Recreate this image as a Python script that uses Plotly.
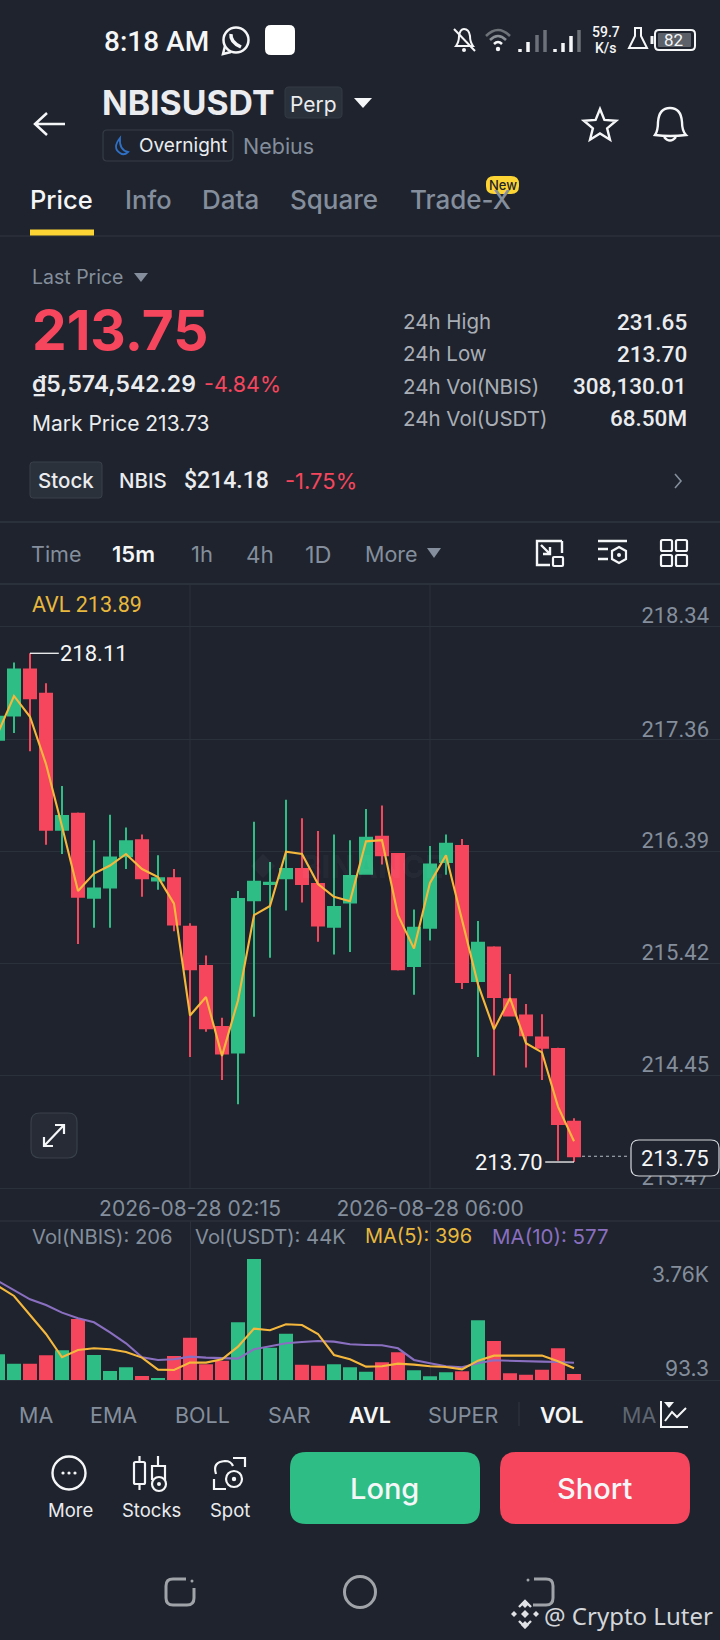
import math
import plotly.graph_objects as go

# ---------- data ----------
index = list(range(37))
opens = [217.36,217.57,217.97,217.76,216.58,216.72,215.99,216.08,216.35,216.49,216.14,216.16,215.74,215.40,214.87,214.65,215.97,216.11,216.16,216.24,216.11,215.74,215.95,216.20,216.52,216.37,215.40,215.73,216.30,216.44,215.27,215.56,215.11,214.97,214.78,214.68,214.05]
closes = [217.56,217.97,217.72,216.58,216.70,216.00,216.07,216.34,216.48,216.16,216.16,215.76,215.37,214.86,214.64,215.98,216.13,216.12,216.24,216.11,215.75,215.91,216.18,216.51,216.36,215.37,215.73,216.28,216.46,215.26,215.60,215.13,214.97,214.80,214.69,214.03,213.75]
highs = [217.70,218.03,218.11,217.85,216.96,216.73,216.49,216.71,216.60,216.54,216.36,216.24,215.77,215.49,214.95,216.05,216.65,216.30,216.84,216.68,216.57,216.54,216.49,216.76,216.79,216.37,215.89,216.44,216.54,216.50,215.79,215.57,215.33,215.07,214.98,214.69,214.08]
lows = [217.36,217.42,217.26,216.45,216.37,215.59,215.73,215.73,216.24,216.00,216.06,215.70,214.61,214.83,214.41,214.20,214.96,215.47,215.88,215.95,215.61,215.50,215.52,216.20,216.28,215.36,215.15,215.62,216.19,215.20,214.61,214.45,214.97,214.52,214.41,213.71,213.70]
avl = [217.42,217.74,217.56,217.15,216.61,216.05,216.20,216.27,216.37,216.24,216.17,215.94,214.97,215.13,214.62,215.10,215.84,215.92,216.39,216.37,216.11,216.00,215.96,216.48,216.49,215.84,215.55,216.12,216.36,215.79,215.24,214.85,215.12,214.73,214.65,214.18,213.88]
volume = [858,550,550,825,990,2024,836,308,429,143,77,803,1408,528,649,1914,4004,1078,1540,517,484,528,429,286,594,924,330,132,264,297,1980,1298,231,187,352,1056,206]
ma5 = [3113,2783,2156,1529,759,1001,1056,1023,935,748,352,341,583,583,693,1111,1705,1650,1848,1826,1529,836,693,451,462,550,517,462,440,363,649,814,814,814,814,627,396]
ma10 = [3278,2981,2673,2486,2233,2046,1914,1584,1221,759,671,693,781,748,726,715,1023,1133,1221,1265,1298,1276,1188,1166,1155,1056,671,561,462,429,561,660,638,627,616,605,577]
price_ticks = [218.34,217.36,216.39,215.42,214.45,213.47]
price_labels = ["218.34","217.36","216.39","215.42","214.45","213.47"]
time_ticks = [12,27]
time_labels = ["2026-08-28 02:15","2026-08-28 06:00"]
high_mark = 218.11
low_mark = 213.70
last_price = 213.75

W, H = 720, 1640
BG = "#1e232d"; GRID = "#2b313a"; GREEN = "#2ebd85"; RED = "#f6465d"
YEL = "#f0b90b"; AVLC = "#f5b83d"; PUR = "#8a6fc0"; GRAY = "#848e9c"; LIGHT = "#eaecef"
FONT = "Inter"; NUM = "Roboto"
Y_BOTTOM = 1204
Y_MIN = 218.34 - (Y_BOTTOM - 626.8) / 115.35
Y_MAX = 218.702

annots = []; shapes = []

def T(text, x, y, size=20, color=LIGHT, anchor="left", weight=400, family=FONT, bg=None):
    a = dict(text=text, xref="paper", yref="paper", x=x/W, y=1-y/H, showarrow=False,
             xanchor=anchor, yanchor="middle", borderpad=0,
             font=dict(size=size, color=color, family=family, weight=weight))
    if bg:
        a["bgcolor"] = bg
    annots.append(a)

def svg(d, line=None, fill=None, w=2, layer="above"):
    toks = d.split(); out = []; isx = True
    for t in toks:
        if t.isalpha():
            out.append(t); isx = True
        else:
            v = float(t)
            out.append(f"{v/W:.6f}" if isx else f"{1-v/H:.6f}")
            isx = not isx
    shapes.append(dict(type="path", xref="paper", yref="paper", path=" ".join(out), layer=layer,
                       line=dict(color=line or "rgba(0,0,0,0)", width=w if line else 0),
                       fillcolor=fill or "rgba(0,0,0,0)"))

def rrect(x0, y0, x1, y1, r, line=None, fill=None, w=1.5, layer="above"):
    d = (f"M {x0+r} {y0} L {x1-r} {y0} Q {x1} {y0} {x1} {y0+r} L {x1} {y1-r} Q {x1} {y1} {x1-r} {y1} "
         f"L {x0+r} {y1} Q {x0} {y1} {x0} {y1-r} L {x0} {y0+r} Q {x0} {y0} {x0+r} {y0} Z")
    svg(d, line, fill, w, layer)

def circ(cx, cy, r, line=None, fill=None, w=2):
    shapes.append(dict(type="circle", xref="paper", yref="paper", x0=(cx-r)/W, x1=(cx+r)/W,
                       y0=1-(cy+r)/H, y1=1-(cy-r)/H, layer="above",
                       line=dict(color=line or "rgba(0,0,0,0)", width=w if line else 0),
                       fillcolor=fill or "rgba(0,0,0,0)"))

def hline(x0, x1, y, color=GRID, w=1.5):
    svg(f"M {x0} {y} L {x1} {y}", color, None, w)

def tri(x0, x1, y0, y1, color):
    svg(f"M {x0} {y0} L {x1} {y0} L {(x0+x1)/2} {y1} Z", None, color)

WHITE = "#f5f6f7"
# ---------- status bar ----------
T("8:18 AM", 103, 41, 28, WHITE, weight=500, family="Roboto")
circ(236, 40, 12.5, WHITE, None, 2.5)
svg("M 225 46 L 223 54 L 231 52", WHITE, None, 2.5)
svg("M 231 34 Q 230 42 241 47", WHITE, None, 3.5)
rrect(265, 25, 295, 55, 6, None, "#ffffff")
# bell off
svg("M 456 46 Q 459 42 459 36 Q 460 29 464 29 Q 469 29 470 36 Q 470 42 473 46 Z", WHITE, None, 2)
svg("M 454 29 L 475 51", WHITE, None, 2)
circ(464, 50, 2, None, WHITE)
# wifi
svg("M 486 36 Q 498 24 510 36", "#6d7278", None, 2.5)
svg("M 490 40 Q 498 32 506 40", "#8b9096", None, 2.5)
svg("M 494 44 Q 498 40 502 44", WHITE, None, 2.5)
circ(498, 49, 2.2, None, WHITE)
for bx, by, col in [(520,49,WHITE),(528,42,WHITE),(537,35,"#6d7278"),(545,30,"#6d7278"),
                    (555,49,WHITE),(563,43,WHITE),(571,36,WHITE),(579,30,"#6d7278")]:
    svg(f"M {bx} {by} L {bx} 52", col, None, 3.5)
T("59.7", 606, 32, 14, WHITE, "center", 500, "Roboto")
T("K/s", 606, 48, 14, WHITE, "center", 500, "Roboto")
svg("M 634 28 L 642 28 M 635 28 L 635 36 L 629 48 L 647 48 L 641 36 L 641 28", WHITE, None, 2)
rrect(655, 30, 695, 50, 4, WHITE, None, 2)
rrect(658, 33, 691, 47, 1, None, "#5c6068")
svg("M 652 36 L 652 44", WHITE, None, 3)
T("82", 673, 40, 17, WHITE, "center", 400, "Roboto")

# ---------- header ----------
svg("M 35 124 L 65 124 M 47 113 L 35 124 L 47 135", WHITE, None, 2.5)
T("NBISUSDT", 101, 103, 33.8, LIGHT, weight=700)
rrect(285, 87, 342, 118, 4, "#353b45", "#2b313a", 1)
T("Perp", 313, 104, 21, LIGHT, "center")
tri(354, 372, 98, 108, WHITE)
rrect(103, 130, 233, 161, 4, "#363c46", None, 1.2)
svg("M 120 138 Q 112 148 120 153 Q 124 156 128 152 Q 119 150 120 138 Z", "#2f6fc4", None, 1.8)
T("Overnight", 138, 146, 19, LIGHT)
T("Nebius", 242, 146, 21.5, GRAY)
star = []
for k in range(10):
    r = 17 if k % 2 == 0 else 7.5
    ang = -math.pi/2 + k*math.pi/5
    star.append(f"{'M' if k == 0 else 'L'} {600+r*math.cos(ang):.2f} {126+r*math.sin(ang):.2f}")
svg(" ".join(star)+" Z", WHITE, None, 2.4)
svg("M 655 135 Q 658 131 658 122 Q 659 108 670 108 Q 681 108 682 122 Q 682 131 686 135 Q 670 137 655 135 Z", WHITE, None, 2.4)
svg("M 664 137 Q 670 144 676 137", WHITE, None, 2.4)
# tabs
T("Price", 29, 199, 25.5, WHITE, weight=500)
T("Info", 124, 199, 25.5, GRAY, weight=500)
T("Data", 201, 199, 26, GRAY, weight=500)
T("Square", 289, 199, 26, GRAY, weight=500)
T("Trade-X", 409, 199, 26, GRAY, weight=500)
rrect(486, 176, 519, 194, 8, None, "#fcd535")
T("New", 502.5, 185, 13, "#1e2329", "center", 500)
hline(0, 720, 236, GRID, 1.5)
svg("M 30 232.5 L 94 232.5", "#fcd535", None, 6)

# ---------- price block ----------
T("Last Price", 31, 277, 19.5, GRAY)
tri(134, 148, 273, 282, GRAY)
T(f"{last_price:.2f}", 31, 330, 55, RED, weight=700)
T("₫5,574,542.29", 31, 384, 23, LIGHT, weight=600)
T("-4.84%", 203, 384, 21.5, RED)
T("Mark Price 213.73", 31, 423, 21, LIGHT)
for label, val, yy in [("24h High","231.65",322),("24h Low","213.70",354),
                       ("24h Vol(NBIS)","308,130.01",386),("24h Vol(USDT)","68.50M",418)]:
    T(label, 402, yy, 20.5, "#a9aeb6")
    T(val, 688, yy, 22.5, LIGHT, "right", 500, NUM)
rrect(30, 462, 102, 498, 3, "#3a404a", "#2b313a", 1)
T("Stock", 66, 481, 20.5, LIGHT, "center", 500)
T("NBIS", 118, 481, 20.5, LIGHT, weight=500)
T("$214.18", 183, 481, 23, LIGHT, weight=500, family=NUM)
T("-1.75%", 284, 481, 22, RED)
svg("M 675 474 L 681 481 L 675 488", GRAY, None, 1.6)
hline(0, 720, 522, GRID, 2)

# ---------- interval row ----------
T("Time", 30, 554, 21.5, GRAY)
T("15m", 111, 554, 22, WHITE, weight=600)
T("1h", 190, 554, 22, GRAY)
T("4h", 245, 554, 22.5, GRAY)
T("1D", 304, 554, 23.5, GRAY)
T("More", 364, 554, 21.5, GRAY)
tri(427, 441, 548, 558, GRAY)
svg("M 552 541 L 537 541 L 537 565 L 550 565 M 562 541 L 562 553 M 552 541 L 562 541", WHITE, None, 2.4)
svg("M 541 545 L 550 554 M 550 547 L 550 554 L 543 554", WHITE, None, 2.4)
rrect(553, 557, 563, 566, 1, WHITE, None, 2.2)
svg("M 598 541 L 627 541 M 598 549 L 608 549 M 598 559 L 608 559", WHITE, None, 2.4)
svg("M 619 547 L 626 551 L 626 559 L 619 563 L 612 559 L 612 551 Z", WHITE, None, 2.2)
circ(619, 555, 2, None, WHITE)
for gx, gy in [(661,540),(676,540),(661,555),(676,555)]:
    rrect(gx, gy, gx+11, gy+11, 1.5, WHITE, None, 2.2)
hline(0, 720, 584, GRID, 2)
T("AVL 213.89", 31, 604, 21.5, "#e8b83e", family=NUM)
T("BINANCE", 372, 866, 31, "rgba(255,255,255,0.04)", "center", 800)
svg("M 263 854 L 275 866 L 263 878 L 251 866 Z", None, "rgba(255,255,255,0.04)")

# ---------- price marks ----------
for tv in time_ticks:
    shapes.append(dict(type="line", xref="x", yref="y", x0=tv, x1=tv, y0=price_ticks[-1], y1=Y_MAX, layer="below",
                       line=dict(color=GRID, width=1)))
shapes.append(dict(type="line", xref="x", yref="y", x0=2, x1=3.8, y0=high_mark, y1=high_mark, layer="above", line=dict(color=WHITE, width=1.3)))
shapes.append(dict(type="line", xref="x", yref="y", x0=34.2, x1=36, y0=low_mark, y1=low_mark, layer="above", line=dict(color=WHITE, width=1.3)))
shapes.append(dict(type="line", xref="x", yref="y", x0=36.5, x1=39.5, y0=last_price, y1=last_price, layer="above", line=dict(color="#b7bdc6", width=1, dash="3px,3px")))
annots.append(dict(text=f"{high_mark:.2f}", xref="x", yref="y", x=3.75, y=high_mark, xanchor="left", yanchor="middle", showarrow=False, font=dict(size=22, color=WHITE, family=NUM)))
annots.append(dict(text=f"{low_mark:.2f}", xref="x", yref="y", x=34.2, y=low_mark, xanchor="right", yanchor="middle", showarrow=False, font=dict(size=22, color=WHITE, family=NUM)))
rrect(631, 1140, 719, 1176, 8, "#d5d8dc", BG, 1.2)
T(f"{last_price:.2f}", 710, 1158, 22, WHITE, "right", family=NUM)

rrect(31, 1113, 77, 1158, 9, "#3a404a", "#262b35", 1.2)
svg("M 44 1146 L 64 1125 M 55 1125 L 64 1125 L 64 1134 M 44 1137 L 44 1146 L 53 1146", WHITE, None, 2.2)

# ---------- volume labels ----------
hline(0, 720, 1221, GRID, 1.5)
hline(0, 720, 1380.5, GRID, 1.2)
T("Vol(NBIS): 206", 31, 1236, 20.2, GRAY)
T("Vol(USDT): 44K", 193.5, 1236, 20.2, GRAY)
T("MA(5): 396", 364, 1236, 20, "#e8b83e")
T("MA(10): 577", 491, 1236, 20.5, PUR)
T("3.76K", 710, 1274, 21, GRAY, "right")
T("93.3", 710, 1368, 21, GRAY, "right")

# ---------- bottom toolbar ----------
for label, x0, col, wgt in [("MA",18,GRAY,400),("EMA",89,GRAY,400),("BOLL",174,GRAY,400),("SAR",267,GRAY,400),
                            ("AVL",348,WHITE,600),("SUPER",427,GRAY,400),("VOL",539,WHITE,600),("MA",621,"#5e6672",400)]:
    T(label, x0, 1415, 21.5, col, weight=wgt)
svg("M 519 1402 L 519 1426", GRID, None, 1.5)
svg("M 661 1401 L 661 1427 L 688 1427", WHITE, None, 2)
svg("M 665 1421 L 672 1412 L 677 1417 L 686 1408", WHITE, None, 2)
tri(664, 674, 1402, 1408, WHITE)

circ(69, 1473, 16.5, WHITE, None, 2.4)
for dx in (-6, 0, 6):
    circ(69+dx, 1473, 1.6, None, WHITE)
rrect(134, 1462, 145, 1484, 1.5, WHITE, None, 2.2)
svg("M 139.5 1456 L 139.5 1462 M 139.5 1484 L 139.5 1490 M 158 1456 L 158 1466 M 152 1480 L 152 1466 L 165 1466 L 165 1480", WHITE, None, 2.2)
circ(159, 1484, 7, WHITE, None, 2.2)
circ(159, 1484, 2, None, WHITE)
svg("M 233 1458 L 245 1458 L 245 1467 M 214 1479 L 214 1489 L 226 1489", WHITE, None, 2.2)
svg("M 216 1474 Q 212 1462 225 1461 Q 231 1461 233 1466", WHITE, None, 2.2)
circ(234, 1479, 8, WHITE, None, 2.2)
circ(234, 1479, 2.2, None, WHITE)
T("More", 70, 1510, 18.5, LIGHT, "center")
T("Stocks", 151, 1510, 18.5, LIGHT, "center")
T("Spot", 230, 1510, 18.5, LIGHT, "center")
rrect(290, 1452, 480, 1524, 16, None, GREEN)
T("Long", 384.5, 1488, 29, "#f5f6f7", "center", 500)
rrect(500, 1452, 690, 1524, 16, None, RED)
T("Short", 594.5, 1488, 29, "#f5f6f7", "center", 500)

# ---------- nav bar + watermark ----------
NAV = "#a0a4a9"
svg("M 186 1579 L 173 1579 Q 166 1579 166 1586 L 166 1598 Q 166 1605 173 1605 L 187 1605 Q 194 1605 194 1598 L 194 1588", NAV, None, 3)
circ(192, 1581, 1.5, None, NAV)
circ(360, 1592, 15.5, NAV, None, 3)
svg("M 534 1579 L 546 1579 Q 553 1579 553 1586 L 553 1598 Q 553 1605 546 1605 L 533 1605", NAV, None, 3)
circ(528, 1580, 1.5, None, NAV)
for cx, cy, r in [(525,1604,4),(525,1625,4),(514,1614,3),(536,1614,3),(525,1614,4)]:
    svg(f"M {cx} {cy-r} L {cx+r} {cy} L {cx} {cy+r} L {cx-r} {cy} Z", None, "#dfe1e4")
svg("M 519 1607 L 525 1601 L 531 1607 M 519 1621 L 525 1627 L 531 1621", "#dfe1e4", None, 2.4)
T("@ Crypto Luter", 543, 1615, 24, "#d3d6da", family="Noto Sans")

# ---------- traces ----------
fig = go.Figure()
fig.add_trace(go.Candlestick(x=index, open=opens, high=highs, low=lows, close=closes, xaxis="x", yaxis="y",
                             whiskerwidth=0, showlegend=False, hoverinfo="skip",
                             increasing=dict(line=dict(color=GREEN, width=2), fillcolor=GREEN),
                             decreasing=dict(line=dict(color=RED, width=2), fillcolor=RED)))
fig.add_trace(go.Scatter(x=index, y=avl, mode="lines", xaxis="x", yaxis="y", showlegend=False, hoverinfo="skip",
                         line=dict(color=AVLC, width=2.1)))
fig.add_trace(go.Bar(x=index, y=volume, xaxis="x2", yaxis="y2", showlegend=False, hoverinfo="skip",
                     marker=dict(color=[GREEN if c >= o else RED for o, c in zip(opens, closes)], line=dict(width=0))))
fig.add_trace(go.Scatter(x=index, y=ma10, mode="lines", xaxis="x2", yaxis="y2", showlegend=False, hoverinfo="skip",
                         line=dict(color=PUR, width=2.1)))
fig.add_trace(go.Scatter(x=index, y=ma5, mode="lines", xaxis="x2", yaxis="y2", showlegend=False, hoverinfo="skip",
                         line=dict(color=AVLC, width=2.1)))

fig.update_layout(
    width=W, height=H, margin=dict(l=0, r=0, t=0, b=0), paper_bgcolor=BG, plot_bgcolor=BG,
    font=dict(family=FONT), boxgap=0.25, boxgroupgap=0, bargap=0.125, showlegend=False,
    annotations=annots, shapes=shapes,
    xaxis=dict(domain=[0, 1], range=[0.125, 45.125], anchor="y", rangeslider=dict(visible=False),
               showgrid=False, zeroline=False, showline=False, ticks="", showticklabels=False),
    yaxis=dict(domain=[1-Y_BOTTOM/H, 1-585/H], range=[Y_MIN, Y_MAX], anchor="x", side="right",
               tickmode="array", tickvals=price_ticks, ticktext=price_labels, showgrid=True, gridcolor=GRID, gridwidth=1,
               zeroline=False, showline=False, ticks="", ticklabelposition="inside", ticklabelshift=-11, ticklabelstandoff=8,
               tickfont=dict(size=22, color=GRAY, family=NUM)),
    xaxis2=dict(domain=[0, 1], range=[0.125, 45.125], anchor="y2", side="top", tickmode="array", tickvals=time_ticks,
                ticktext=time_labels, tickfont=dict(size=21, color=GRAY, family=FONT), tickangle=0,
                showgrid=True, gridcolor=GRID, gridwidth=1, zeroline=False, showline=False, ticks=""),
    yaxis2=dict(domain=[1-1380.3/H, 1-1221/H], range=[0, 5257], anchor="x2", side="right", showgrid=False, zeroline=False,
                showticklabels=False, ticks=""),
)

fig.write_html("out.html", config=dict(displayModeBar=False), post_script="document.body.style.margin='0';")
